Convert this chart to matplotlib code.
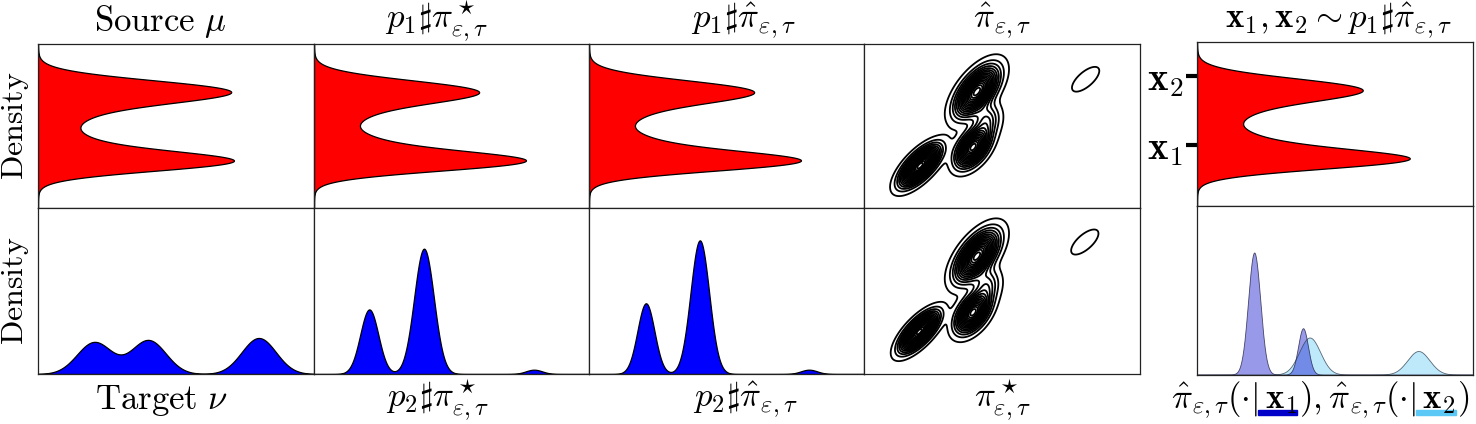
import numpy as np
import matplotlib
matplotlib.use("Agg")
import matplotlib.pyplot as plt
from matplotlib.patches import Rectangle

plt.rcParams['mathtext.fontset'] = 'cm'
plt.rcParams['font.family'] = 'serif'

W, H = 1476, 424

# ---- source mu and first marginals (density along vertical axis)
src_mean = [0.713, 0.282, 0.38, 0.58]
src_sigma = [0.068, 0.058, 0.08, 0.08]
src_height = [0.66, 0.62, 0.18, 0.15]
marg1_height = [0.56, 0.66, 0.22, 0.15]

# ---- target nu and second marginals (horizontal axis)
tgt_mean = [0.204, 0.40, 0.80]
tgt_sigma = [0.063, 0.063, 0.062]
tgt_height = [0.192, 0.204, 0.217]

star_mean = [0.201, 0.40, 0.80]
star_sigma = [0.033, 0.036, 0.03]
star_height = [0.389, 0.755, 0.026]

hat_mean = [0.207, 0.403, 0.80]
hat_sigma = [0.031, 0.034, 0.03]
hat_height = [0.426, 0.805, 0.026]

# ---- conditionals given x1 / x2
cond1_mean = [0.209, 0.386]
cond1_sigma = [0.022, 0.018]
cond1_height = [0.722, 0.274]
cond2_mean = [0.41, 0.804]
cond2_sigma = [0.038, 0.04]
cond2_height = [0.219, 0.139]

# ---- 2D couplings: mean x, mean y, sigma x, sigma y, rho, weight
hat_mx = [0.203, 0.395, 0.409, 0.445, 0.803]
hat_my = [0.258, 0.371, 0.71, 0.54, 0.785]
hat_sx = [0.041, 0.036, 0.045, 0.030, 0.038]
hat_sy = [0.070, 0.070, 0.088, 0.060, 0.058]
hat_rho = [0.70, 0.50, 0.60, 0.20, 0.68]
hat_w = [1.0, 0.80, 0.85, 0.20, 0.07]

star_mx = [0.200, 0.395, 0.409, 0.445, 0.800]
star_my = [0.255, 0.371, 0.71, 0.54, 0.795]
star_sx = [0.039, 0.036, 0.045, 0.030, 0.038]
star_sy = [0.067, 0.070, 0.088, 0.060, 0.058]
star_rho = [0.72, 0.50, 0.60, 0.20, 0.68]
star_w = [1.0, 0.80, 0.85, 0.18, 0.07]

x1_pos, x2_pos = 0.37, 0.79

titles = [r'$\mathrm{Source}\ \mu$', r'$p_1\sharp\pi^\star_{\varepsilon,\tau}$',
          r'$p_1\sharp\hat{\pi}_{\varepsilon,\tau}$', r'$\hat{\pi}_{\varepsilon,\tau}$',
          r'$\mathbf{x}_1, \mathbf{x}_2 \sim p_1\sharp\hat{\pi}_{\varepsilon,\tau}$']
bottoms = [r'$\mathrm{Target}\ \nu$', r'$p_2\sharp\pi^\star_{\varepsilon,\tau}$',
           r'$p_2\sharp\hat{\pi}_{\varepsilon,\tau}$', r'$\pi^\star_{\varepsilon,\tau}$']
cond_parts = [r'\hat{\pi}_{\varepsilon,\tau}(\cdot|\,', r'\mathbf{x}_1',
              r'), \hat{\pi}_{\varepsilon,\tau}(\cdot|\,', r'\mathbf{x}_2', r')']


def mix1d(t, means, sigmas, heights):
    out = np.zeros_like(t)
    for m, s, h in zip(means, sigmas, heights):
        out += h * np.exp(-0.5 * ((t - m) / s) ** 2)
    return out


def mix2d(X, Y, mx, my, sx, sy, rho, w):
    Z = np.zeros_like(X)
    for a, b, c, d, r, k in zip(mx, my, sx, sy, rho, w):
        u = (X - a) / c
        v = (Y - b) / d
        q = (u * u - 2 * r * u * v + v * v) / (1 - r * r)
        Z += k * np.exp(-0.5 * q)
    return Z


def px_axes(fig, x0, y0, x1, y1):
    return fig.add_axes([x0 / W, 1 - y1 / H, (x1 - x0) / W, (y1 - y0) / H])


fig = plt.figure(figsize=(W / 100, H / 100), dpi=100)

cols = [38, 314, 589, 864, 1140]
top_axes, bot_axes = [], []
for i in range(4):
    top_axes.append(px_axes(fig, cols[i], 44, cols[i + 1], 208))
    bot_axes.append(px_axes(fig, cols[i], 208, cols[i + 1], 374))
rt = px_axes(fig, 1197, 42, 1473, 206)
rb = px_axes(fig, 1197, 206, 1473, 375)

t = np.linspace(0, 1, 800)
src = mix1d(t, src_mean, src_sigma, src_height)
marg1 = mix1d(t, src_mean, src_sigma, marg1_height)

for ax, d in zip(top_axes[:3] + [rt], [src, marg1, marg1, marg1]):
    ax.fill_betweenx(t, 0, d, color='#ff0000', edgecolor='black', linewidth=0.9)
    ax.set_xlim(0, 1)
    ax.set_ylim(0, 1)

bot_data = [(tgt_mean, tgt_sigma, tgt_height),
            (star_mean, star_sigma, star_height),
            (hat_mean, hat_sigma, hat_height)]
for ax, (m, s, h) in zip(bot_axes[:3], bot_data):
    d = mix1d(t, m, s, h)
    ax.fill_between(t, 0, d, color='#0000ff', edgecolor='black', linewidth=0.9)
    ax.set_xlim(0, 1)
    ax.set_ylim(0, 1)

gx = np.linspace(0, 1, 500)
X, Y = np.meshgrid(gx, gx)
for ax, p in [(top_axes[3], (hat_mx, hat_my, hat_sx, hat_sy, hat_rho, hat_w)),
              (bot_axes[3], (star_mx, star_my, star_sx, star_sy, star_rho, star_w))]:
    Z = mix2d(X, Y, *p)
    levels = np.linspace(0.03, 0.97, 20) * Z.max()
    ax.contour(X, Y, Z, levels=levels, colors='black', linewidths=1.3)
    ax.set_xlim(0, 1)
    ax.set_ylim(0, 1)

# conditionals of the coupling
c1 = mix1d(t, cond1_mean, cond1_sigma, cond1_height)
c2 = mix1d(t, cond2_mean, cond2_sigma, cond2_height)
rb.fill_between(t, 0, c2, color='#5bc8f5', alpha=0.4, edgecolor='none')
rb.plot(t, c2, color='#334455', linewidth=0.6, alpha=0.8)
rb.fill_between(t, 0, c1, color='#0000c8', alpha=0.4, edgecolor='none')
rb.plot(t, c1, color='#222244', linewidth=0.6, alpha=0.8)
rb.set_xlim(0, 1)
rb.set_ylim(0, 1)

for ax in top_axes + bot_axes + [rt, rb]:
    ax.set_xticks([])
    ax.set_yticks([])
    for sp in ax.spines.values():
        sp.set_linewidth(0.9)
        sp.set_color('#222222')

rt.set_yticks([x1_pos, x2_pos])
rt.set_yticklabels([r'$\mathbf{x}_1$', r'$\mathbf{x}_2$'], fontsize=28)
rt.tick_params(axis='y', length=8, width=3, pad=2)

fs = 25
title_x = [160, 437, 743, 1002, 1338]
bottom_x = [161, 438, 745, 1002]
for x, s in zip(title_x, titles):
    fig.text(x / W, 1 - 21 / H, s, ha='center', va='center', fontsize=fs)
for x, s in zip(bottom_x, bottoms):
    fig.text(x / W, 1 - 400 / H, s, ha='center', va='center', fontsize=fs)

for yc in [126, 291]:
    fig.text(16 / W, 1 - yc / H, r'$\mathrm{Density}$', ha='center', va='center',
             rotation=90, fontsize=23)

# conditional label with colour keys under x1 and x2
renderer = fig.canvas.get_renderer()
full = '$' + ''.join(cond_parts) + '$'
lab = fig.text(1320 / W, 1 - 400 / H, full, ha='center', va='center', fontsize=fs)
x_left = lab.get_window_extent(renderer).x0


def prefix_width(n):
    tmp = fig.text(0, 0, '$' + ''.join(cond_parts[:n]) + '$', fontsize=fs)
    w = tmp.get_window_extent(renderer).width
    tmp.remove()
    return w


for n, col in [(1, '#0000c8'), (3, '#5bc8f5')]:
    a = x_left + prefix_width(n)
    b = x_left + prefix_width(n + 1)
    fig.add_artist(Rectangle((a / W, 1 - 415 / H), (b - a) / W, 5 / H,
                             transform=fig.transFigure, color=col))

fig.savefig('out.png', dpi=100)
